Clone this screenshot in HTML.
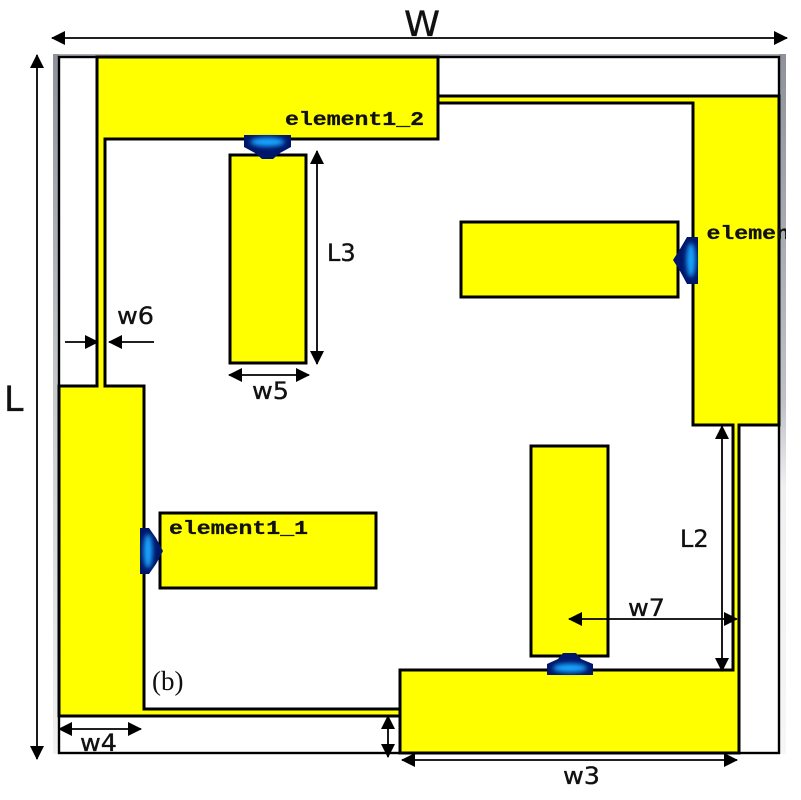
<!DOCTYPE html>
<html><head><meta charset="utf-8"><style>
html,body{margin:0;padding:0;background:#fff}
svg{display:block}
text{font-family:"DejaVu Sans","Liberation Sans",sans-serif;fill:#111;stroke:#111;stroke-width:.35px}
text.m{font-family:"Liberation Mono",monospace;font-weight:bold;font-size:19px;fill:#111;stroke-width:.3px}
text.s{font-family:"Liberation Serif",serif;stroke-width:0}
</style></head><body>
<svg width="801" height="800" viewBox="0 0 801 800" xmlns="http://www.w3.org/2000/svg">
<defs>
<linearGradient id="fl" x1="0" x2="0" y1="0" y2="1"><stop offset="0" stop-color="#8f929b"/><stop offset=".5" stop-color="#c8cad0"/><stop offset="1" stop-color="#f2f2f5"/></linearGradient>
<linearGradient id="fr" x1="0" x2="0" y1="0" y2="1"><stop offset="0" stop-color="#8f929b"/><stop offset=".5" stop-color="#c0c2c8"/><stop offset=".62" stop-color="#f0f0f3"/><stop offset="1" stop-color="#f6f6f8"/></linearGradient>
<filter id="b" x="-50%" y="-50%" width="200%" height="200%"><feGaussianBlur stdDeviation="2.4"/></filter>
<filter id="s" x="-10%" y="-10%" width="120%" height="120%"><feGaussianBlur stdDeviation=".25"/></filter>
<marker id="a" viewBox="0 0 14 14" refX="13" refY="7" markerWidth="14" markerHeight="14" markerUnits="userSpaceOnUse" orient="auto-start-reverse"><path d="M0 0L14 7L0 14Z" fill="#000"/></marker>
</defs>
<rect x="53" y="54" width="733" height="4" fill="#a9acb3"/>
<rect x="53" y="54" width="6" height="700" fill="url(#fl)"/>
<rect x="779" y="54" width="7" height="700" fill="url(#fr)"/>
<g filter="url(#s)">
<rect x="59" y="57" width="720" height="696" fill="#fff" stroke="#000" stroke-width="2.4"/>
<g fill="#ffff00" stroke="#000" stroke-width="3">
<path d="M97 57H438V139H105V386H144V709H400V716H59V386H97Z"/>
<path d="M438 96H779V425H739V753H400V670H733V425H693V103H438Z"/>
<rect x="230" y="155" width="76" height="208"/>
<rect x="461" y="222" width="217" height="75"/>
<rect x="160" y="513" width="216" height="75"/>
<rect x="531" y="446" width="77" height="210"/>
</g>
<path d="M244 135H291V147L280 153L273 159H262L255 153L244 147Z" fill="#00176a"/>
<ellipse cx="267.500" cy="142" rx="17" ry="4.500" fill="#14a4ff" filter="url(#b)"/>
<path d="M547 675V664L558 659L563 653H576L581 659L593 664V675Z" fill="#00176a"/>
<ellipse cx="570" cy="668" rx="17" ry="4.500" fill="#14a4ff" filter="url(#b)"/>
<path d="M698 237V284H687L680 271L673 260L680 249L687 237Z" fill="#00176a"/>
<ellipse cx="691" cy="260" rx="4.500" ry="17" fill="#14a4ff" filter="url(#b)"/>
<path d="M140 528H149L156 538L163 551L156 564L149 574H140Z" fill="#00176a"/>
<ellipse cx="148" cy="551" rx="4.500" ry="17" fill="#14a4ff" filter="url(#b)"/>
</g>
<text class="m" x="285" y="125" textLength="139" lengthAdjust="spacingAndGlyphs">element1_2</text>
<svg x="700" y="210" width="86" height="50"><text class="m" x="6.500" y="29" textLength="139" lengthAdjust="spacingAndGlyphs">element1_1</text></svg>
<text class="m" x="169" y="534" textLength="139" lengthAdjust="spacingAndGlyphs">element1_1</text>
<g stroke="#000" stroke-width="1.8" fill="none">
<line x1="52" y1="38" x2="787" y2="38" marker-start="url(#a)" marker-end="url(#a)"/>
<line x1="37" y1="55" x2="37" y2="759" marker-start="url(#a)" marker-end="url(#a)"/>
<line x1="317" y1="151" x2="317" y2="364" marker-start="url(#a)" marker-end="url(#a)"/>
<line x1="229" y1="375" x2="309" y2="375" marker-start="url(#a)" marker-end="url(#a)"/>
<line x1="722" y1="426" x2="722" y2="671" marker-start="url(#a)" marker-end="url(#a)"/>
<line x1="569" y1="619" x2="737" y2="619" marker-start="url(#a)" marker-end="url(#a)"/>
<line x1="59" y1="729" x2="141" y2="729" marker-start="url(#a)" marker-end="url(#a)"/>
<line x1="388" y1="716" x2="388" y2="757" marker-start="url(#a)" marker-end="url(#a)"/>
<line x1="402" y1="760" x2="737" y2="760" marker-start="url(#a)" marker-end="url(#a)"/>
<line x1="65" y1="342" x2="98" y2="342" marker-end="url(#a)"/>
<line x1="154" y1="342" x2="109" y2="342" marker-end="url(#a)"/>
</g>
<text x="404" y="36" font-size="35" textLength="36" lengthAdjust="spacingAndGlyphs">W</text>
<text x="4" y="411" font-size="35">L</text>
<text x="327" y="261" font-size="24">L3</text>
<text x="117" y="324" font-size="24" textLength="37" lengthAdjust="spacingAndGlyphs">w6</text>
<text x="252" y="399" font-size="24" textLength="37" lengthAdjust="spacingAndGlyphs">w5</text>
<text x="680" y="547" font-size="24">L2</text>
<text x="628" y="616" font-size="24" textLength="37" lengthAdjust="spacingAndGlyphs">w7</text>
<text x="80" y="751" font-size="24" textLength="37" lengthAdjust="spacingAndGlyphs">w4</text>
<text x="563" y="784" font-size="24" textLength="37" lengthAdjust="spacingAndGlyphs">w3</text>
<text class="s" x="152" y="690" font-size="27">(b)</text>
</svg>
</body></html>
